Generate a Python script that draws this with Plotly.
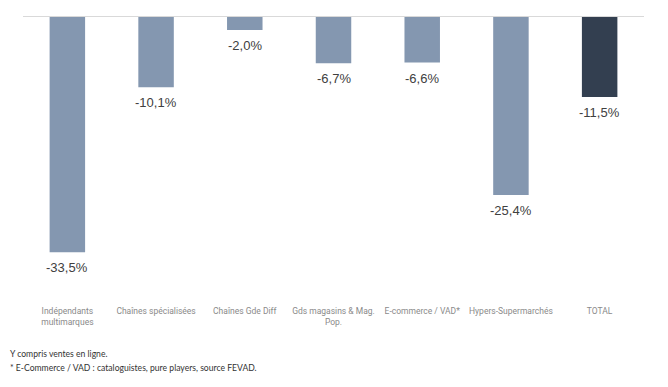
import plotly.graph_objects as go

categories = ["Indépendants<br>multimarques", "Chaînes spécialisées", "Chaînes Gde Diff",
              "Gds magasins & Mag.<br>Pop.", "E-commerce / VAD*", "Hypers-Supermarchés", "TOTAL"]
values = [-33.5, -10.1, -2.0, -6.7, -6.6, -25.4, -11.5]
labels = ["-33,5%", "-10,1%", "-2,0%", "-6,7%", "-6,6%", "-25,4%", "-11,5%"]
colors = ["#8497b0"] * 6 + ["#333f50"]

fig = go.Figure()
fig.add_trace(go.Bar(x=categories, y=values, marker_color=colors, marker_line_width=0,
                     hoverinfo="skip"))

for c, v, t in zip(categories, values, labels):
    fig.add_annotation(x=c, y=v, text=t, showarrow=False, yanchor="top", yshift=-6,
                       font=dict(family="Liberation Sans, Arial", size=13, color="#404040"))

fig.add_shape(type="line", xref="paper", yref="y", x0=0, x1=1, y0=0, y1=0,
              line=dict(color="#d9d9d9", width=2))

fig.add_annotation(xref="paper", yref="paper", x=-15/621, y=-56/282, xanchor="left", yanchor="middle",
                   showarrow=False, align="left",
                   text="Y compris ventes en ligne.",
                   font=dict(family="Lato, Open Sans", size=8.6, color="#333333"))
fig.add_annotation(xref="paper", yref="paper", x=-15/621, y=-70/282, xanchor="left", yanchor="middle",
                   showarrow=False, align="left",
                   text="* E-Commerce / VAD : cataloguistes, pure players, source FEVAD.",
                   font=dict(family="Lato, Open Sans", size=8.6, color="#333333"))

fig.update_layout(
    width=668, height=387,
    margin=dict(l=15, r=32, t=8, b=97),
    paper_bgcolor="white", plot_bgcolor="white",
    bargap=0.6, showlegend=False,
    xaxis=dict(showgrid=False, showline=False, ticks="", ticklabelstandoff=6,
               tickfont=dict(family="Roboto", size=8.5, color="#8a8a8a")),
    yaxis=dict(range=[-40, 0], visible=False, showgrid=False, zeroline=False),
)

fig.write_html("out.html")
